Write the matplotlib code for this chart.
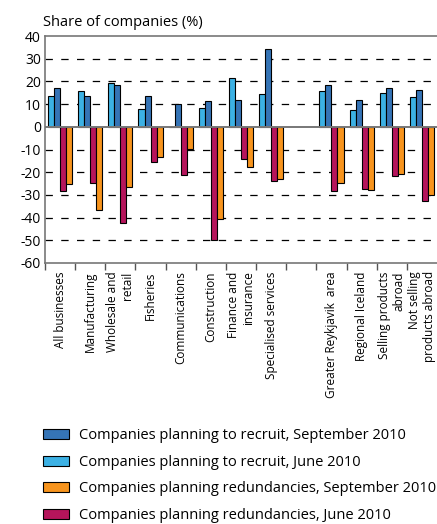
import matplotlib
matplotlib.use("Agg")
import matplotlib.pyplot as plt
import numpy as np

categories = ["All businesses", "Manufacturing", "Wholesale and\nretail", "Fisheries",
              "Communications", "Construction", "Finance and\ninsurance", "Specialised services",
              "", "Greater Reykjavik  area", "Regional Iceland", "Selling products\nabroad",
              "Not selling\nproducts abroad"]

recruit_jun = [13.5, 15.7, 19.4, 7.8, 0.0, 8.5, 21.5, 14.4, np.nan, 15.6, 7.6, 15.1, 13.1]
recruit_sep = [17.1, 13.4, 18.5, 13.7, 9.9, 11.3, 11.9, 34.3, np.nan, 18.4, 11.6, 16.9, 16.2]
redund_jun = [-28.2, -24.9, -42.5, -15.6, -21.2, -49.9, -14.3, -24.0, np.nan, -28.5, -27.5, -21.8, -32.5]
redund_sep = [-25.3, -36.6, -26.3, -13.5, -9.7, -40.7, -17.5, -22.8, np.nan, -24.7, -27.9, -20.7, -30.0]

yticks = [40, 30, 20, 10, 0, -10, -20, -30, -40, -50, -60]

c_dark = "#3574b6"
c_light = "#3cb1e4"
c_orange = "#f7941d"
c_crimson = "#b5155b"

plt.rcParams['font.family'] = ['Open Sans', 'DejaVu Sans']

W, H = 437, 524
fig = plt.figure(figsize=(W/100, H/100), dpi=100)
ax = fig.add_axes([45/W, 1-263/H, 1-45/W, (263-36)/H])

x = np.arange(len(categories))
bw = 0.2
kw = dict(edgecolor="black", linewidth=0.8, zorder=3)
b1 = ax.bar(x - 1.5*bw, recruit_jun, bw, color=c_light, **kw)
b2 = ax.bar(x - 0.5*bw, recruit_sep, bw, color=c_dark, **kw)
b3 = ax.bar(x + 0.5*bw, redund_jun, bw, color=c_crimson, **kw)
b4 = ax.bar(x + 1.5*bw, redund_sep, bw, color=c_orange, **kw)

ax.set_xlim(-0.5, len(categories) - 0.5)
ax.set_ylim(-60, 40)
ax.set_yticks(yticks)
ax.set_yticklabels([str(v) for v in yticks], fontsize=10)
ax.tick_params(axis='y', length=0, pad=3)

for v in [30, 20, 10, -10, -20, -30, -40, -50]:
    ax.axhline(v, color="black", lw=0.9, dashes=(5.9, 6.7), zorder=1)
ax.axhline(0, color="#777777", lw=1.4, zorder=4)

ax.set_xticks(x)
ax.set_xticklabels(categories, rotation=90, fontsize=8.5, va="top", ha="center",
                   multialignment="right")
ax.tick_params(axis='x', length=0, pad=6)
ax.set_xticks(np.arange(-0.5, len(categories) - 0.5, 1.0), minor=True)
ax.tick_params(axis='x', which='minor', length=5, width=1, color="#555555", direction="out")

for s in ["left", "bottom", "top"]:
    ax.spines[s].set_color("#777777")
    ax.spines[s].set_linewidth(1.2)
ax.spines["right"].set_visible(False)

fig.text(43/W, 1-22/H, "Share of companies (%)", fontsize=10.5, va="center", ha="left")

handles = [b2, b1, b4, b3]
labels = ["Companies planning to recruit, September 2010",
          "Companies planning to recruit, June 2010",
          "Companies planning redundancies, September 2010",
          "Companies planning redundancies, June 2010"]
fig.legend(handles, labels, loc="upper left", bbox_to_anchor=(43/W, 1-428/H),
           frameon=False, fontsize=10.5, handlelength=1.78, handleheight=0.69,
           handletextpad=0.69, labelspacing=0.8, borderaxespad=0, borderpad=0)

fig.savefig("out.png", dpi=100)
